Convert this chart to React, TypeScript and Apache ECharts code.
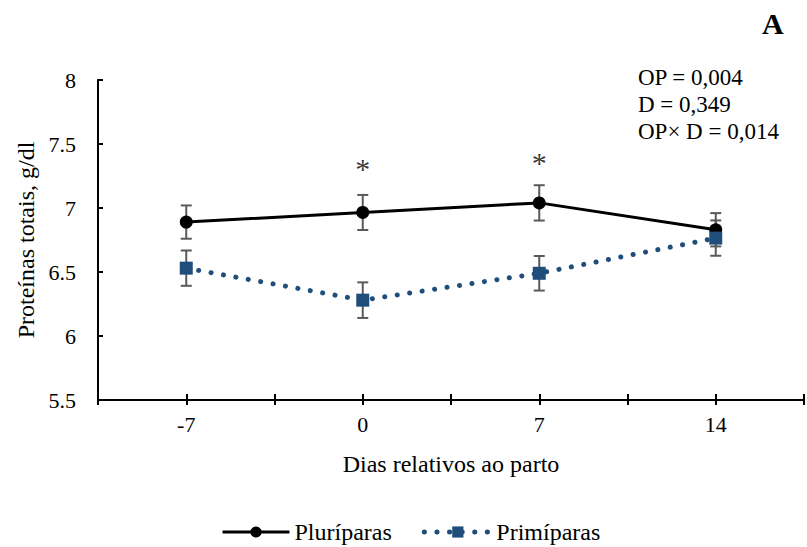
import React, { useEffect, useRef } from "react";
import * as echarts from "echarts";

const days = [-7, 0, 7, 14];
const pluriparas = [6.89, 6.965, 7.04, 6.83];
const primiparas = [6.53, 6.28, 6.49, 6.765];
const pluriSE = [0.13, 0.137, 0.138, 0.13];
const primiSE = [0.138, 0.139, 0.135, 0.138];
const sigDays = [0, 7];
const sigLevels = [7.36, 7.41];
const statsLines = ["OP = 0,004", "D = 0,349", "OP× D = 0,014"];
const seriesNames = ["Pluríparas", "Primíparas"];

const FONT = "'Liberation Serif', 'Times New Roman', serif";
const PRIMI_COLOR = "#1f4e7a";
const DOTTED = { width: 5, type: [0.1, 12.5], cap: "round" };

function errorBarItem(params: any, api: any) {
  const x = api.value(0);
  const lo = api.value(1);
  const hi = api.value(2);
  const top = api.coord([x, hi]);
  const bot = api.coord([x, lo]);
  const w = 5.5;
  const style = { stroke: "#5a5a5a", lineWidth: 2 };
  return {
    type: "group",
    children: [
      { type: "line", shape: { x1: top[0], y1: top[1], x2: bot[0], y2: bot[1] }, style },
      { type: "line", shape: { x1: top[0] - w, y1: top[1], x2: top[0] + w, y2: top[1] }, style },
      { type: "line", shape: { x1: bot[0] - w, y1: bot[1], x2: bot[0] + w, y2: bot[1] }, style },
    ],
  };
}

export default function App() {
  const ref = useRef<HTMLDivElement>(null);
  useEffect(() => {
    if (!ref.current) return;
    const chart = echarts.init(ref.current, undefined, { renderer: "svg" });
    const xCommon = {
      type: "value",
      min: -10.5,
      max: 17.5,
      interval: 3.5,
      splitLine: { show: false },
    };
    chart.setOption({
      animation: false,
      backgroundColor: "#ffffff",
      textStyle: { fontFamily: FONT, color: "#000" },
      grid: { left: 98, top: 80, width: 714, height: 320, containLabel: false },
      xAxis: [
        {
          ...xCommon,
          position: "bottom",
          name: "Dias relativos ao parto",
          nameLocation: "middle",
          nameGap: 52,
          nameTextStyle: { fontFamily: FONT, fontSize: 24, color: "#000" },
          axisLine: { show: true, onZero: false, lineStyle: { color: "#000", width: 2 } },
          axisTick: { show: true, inside: false, length: 5, lineStyle: { color: "#000", width: 2 } },
          axisLabel: {
            show: true,
            margin: 13,
            fontFamily: FONT,
            fontSize: 22,
            color: "#000",
            formatter: (v: number) =>
              Number.isInteger(v) && v % 7 === 0 && v >= -7 && v <= 14 ? String(v) : "",
          },
        },
        {
          ...xCommon,
          position: "bottom",
          axisLine: { show: false, onZero: false },
          axisTick: { show: true, inside: true, length: 6, lineStyle: { color: "#000", width: 2 } },
          axisLabel: { show: false },
        },
      ],
      yAxis: {
        type: "value",
        min: 5.5,
        max: 8,
        interval: 0.5,
        name: "Proteínas totais, g/dl",
        nameLocation: "middle",
        nameGap: 60,
        nameTextStyle: { fontFamily: FONT, fontSize: 24, color: "#000" },
        splitLine: { show: false },
        axisLine: { show: true, onZero: false, lineStyle: { color: "#000", width: 2 } },
        axisTick: { show: true, inside: true, length: 5, lineStyle: { color: "#000", width: 2 } },
        axisLabel: { margin: 22, fontFamily: FONT, fontSize: 22, color: "#000" },
      },
      legend: {
        data: [
          { name: seriesNames[0], lineStyle: { width: 3 } },
          { name: seriesNames[1], lineStyle: { ...DOTTED, color: PRIMI_COLOR } },
        ],
        left: 221,
        top: 520,
        padding: 0,
        itemWidth: 67,
        itemHeight: 14,
        itemGap: 30,
        textStyle: { fontFamily: FONT, fontSize: 24, lineHeight: 24, color: "#000" },
      },
      graphic: [
        {
          type: "text",
          left: 638,
          top: 64,
          style: {
            text: statsLines.join("\n"),
            font: `23px ${FONT}`,
            lineHeight: 27,
            fill: "#000",
          },
        },
        {
          type: "text",
          left: 762,
          top: 8,
          style: { text: "A", font: `bold 30px ${FONT}`, fill: "#000" },
        },
      ],
      series: [
        {
          type: "custom",
          name: "errP",
          renderItem: errorBarItem,
          data: days.map((d, i) => [d, pluriparas[i] - pluriSE[i], pluriparas[i] + pluriSE[i]]),
          z: 1,
          silent: true,
        },
        {
          type: "custom",
          name: "errQ",
          renderItem: errorBarItem,
          data: days.map((d, i) => [d, primiparas[i] - primiSE[i], primiparas[i] + primiSE[i]]),
          z: 1,
          silent: true,
        },
        {
          type: "line",
          name: seriesNames[0],
          data: days.map((d, i) => [d, pluriparas[i]]),
          symbol: "circle",
          symbolSize: 13,
          itemStyle: { color: "#000" },
          lineStyle: { color: "#000", width: 3 },
          z: 3,
        },
        {
          type: "line",
          name: seriesNames[1],
          data: days.map((d, i) => [d, primiparas[i]]),
          symbol: "rect",
          symbolSize: 13,
          itemStyle: { color: PRIMI_COLOR },
          lineStyle: { ...DOTTED, color: PRIMI_COLOR },
          z: 4,
        },
        {
          type: "scatter",
          name: "sig",
          data: sigDays.map((d, i) => [d, sigLevels[i]]),
          symbolSize: 1,
          itemStyle: { color: "rgba(0,0,0,0)" },
          silent: true,
          z: 10,
          label: {
            show: true,
            position: "inside",
            formatter: "*",
            fontFamily: FONT,
            fontSize: 30,
            color: "#000",
            offset: [0, 7],
          },
        },
      ],
    });
    return () => chart.dispose();
  }, []);
  return <div ref={ref} style={{ width: 807, height: 547, position: "absolute", left: 0, top: 0 }} />;
}
